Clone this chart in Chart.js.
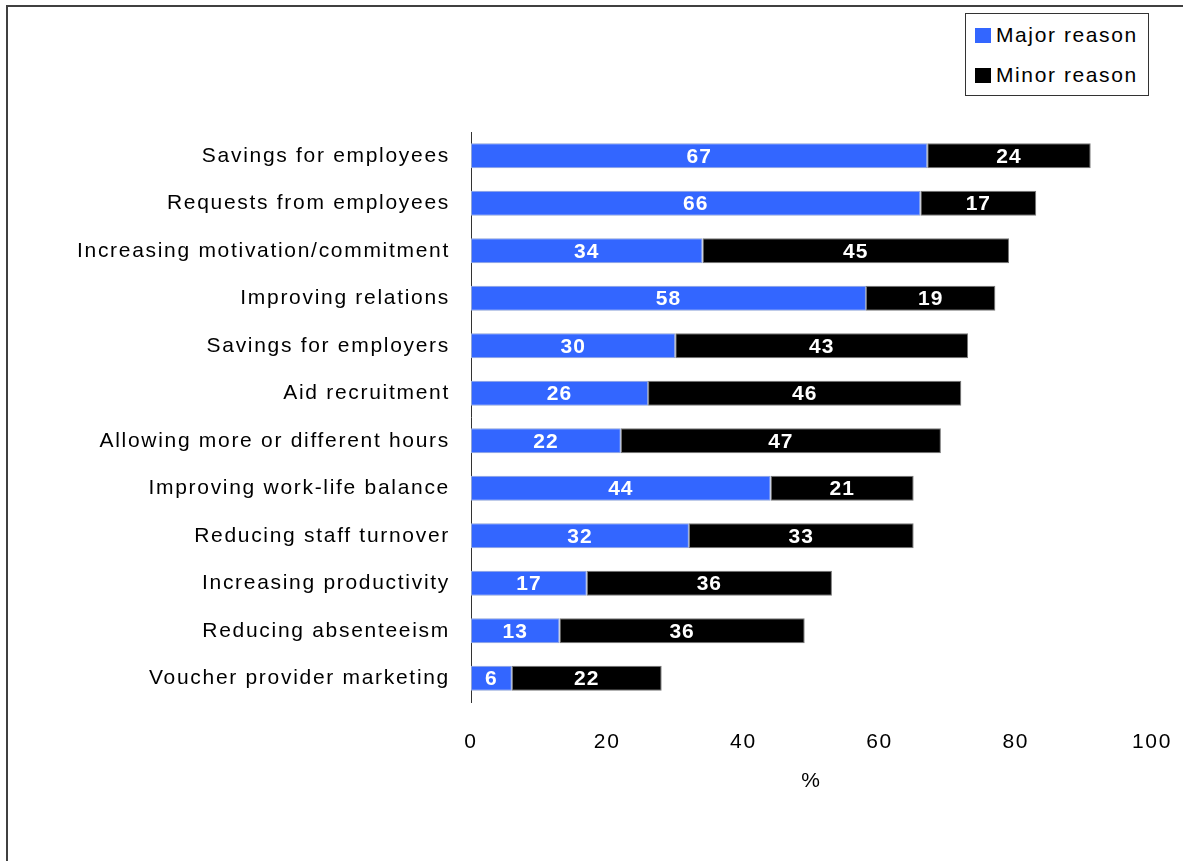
<!DOCTYPE html>
<html>
<head>
<meta charset="utf-8">
<script src="https://cdn.jsdelivr.net/npm/chart.js@4.4.1/dist/chart.umd.min.js"></script>
<style>
  body { margin: 0; background: #fff; }
  #wrap { position: relative; width: 1185px; height: 861px; }
  #frame {
    position: absolute; left: 6px; top: 5px; width: 1175px; height: 860px;
    border-top: 2px solid #404040; border-left: 2px solid #404040;
  }
  #legend {
    position: absolute; left: 965px; top: 13px; width: 182px; height: 81px;
    border: 1px solid #333; background: #fff;
    font-family: "Liberation Sans", Arial, sans-serif; font-size: 21px; letter-spacing: 1.6px;
  }
  #legend div { position: absolute; left: 9px; height: 24px; line-height: 24px; white-space: nowrap; }
  #legend span { display: inline-block; width: 16px; height: 15px; margin-right: 5px; vertical-align: -1px; }
  canvas { position: absolute; left: 0; top: 0; }
</style>
</head>
<body>
<div id="wrap">
  <div id="frame"></div>
  <canvas id="reasonsChart" width="1185" height="861"></canvas>
  <div id="legend"></div>
</div>
<script>
// Reasons for offering vouchers, % of respondents
const reasons = [
    'Savings for employees',
    'Requests from employees',
    'Increasing motivation/commitment',
    'Improving relations',
    'Savings for employers',
    'Aid recruitment',
    'Allowing more or different hours',
    'Improving work-life balance',
    'Reducing staff turnover',
    'Increasing productivity',
    'Reducing absenteeism',
    'Voucher provider marketing'
];
const majorReason = [67, 66, 34, 58, 30, 26, 22, 44, 32, 17, 13, 6];
const minorReason = [24, 17, 45, 19, 43, 46, 47, 21, 33, 36, 36, 22];
const xTicks = [0, 20, 40, 60, 80, 100];

const FONT = '"Liberation Sans", Arial, sans-serif';

// white numbers in the middle of each bar segment
const barValues = {
    id: 'barValues',
    afterDatasetsDraw(chart) {
        const ctx = chart.ctx;
        ctx.save();
        ctx.letterSpacing = '1px';
        ctx.font = 'bold 21px ' + FONT;
        ctx.fillStyle = '#fff';
        ctx.textAlign = 'center';
        ctx.textBaseline = 'middle';
        chart.data.datasets.forEach((ds, i) => {
            chart.getDatasetMeta(i).data.forEach((bar, j) => {
                const p = bar.getProps(['x', 'y', 'base'], true);
                ctx.fillText(ds.data[j], (p.x + p.base) / 2, p.y + 1);
            });
        });
        ctx.restore();
    }
};

// spaced lettering for the axis text
const spacing = {
    id: 'spacing',
    beforeDraw(chart) { chart.ctx.letterSpacing = '1.7px'; }
};

const ctx = document.getElementById('reasonsChart').getContext('2d');
const chart = new Chart(ctx, {
    type: 'bar',
    data: {
        labels: reasons,
        datasets: [{
            label: 'Major reason',
            data: majorReason,
            backgroundColor: '#3366ff',
            borderColor: '#8fa3d9',
            borderWidth: 1,
            borderSkipped: false
        }, {
            label: 'Minor reason',
            data: minorReason,
            backgroundColor: '#000000',
            borderColor: '#777777',
            borderWidth: 1,
            borderSkipped: false
        }]
    },
    options: {
        indexAxis: 'y',
        responsive: false,
        animation: false,
        layout: { padding: { top: 132, right: 33, left: 0, bottom: 0 } },
        datasets: { bar: { categoryPercentage: 1, barPercentage: 0.53 } },
        plugins: {
            legend: { display: false },
            tooltip: { enabled: false }
        },
        scales: {
            x: {
                stacked: true,
                min: 0,
                max: 100,
                afterBuildTicks: (scale) => { scale.ticks = xTicks.map(v => ({ value: v })); },
                grid: { display: false, drawTicks: false },
                border: { display: false },
                ticks: { color: '#000', padding: 28, font: { family: FONT, size: 21 } },
                title: {
                    display: true,
                    text: '%',
                    color: '#000',
                    font: { family: FONT, size: 21 },
                    padding: { top: 0, bottom: 67 }
                },
                afterFit: (scale) => {
                    scale.height = 159;
                    scale.paddingLeft = 0;
                    scale.paddingRight = 0;
                }
            },
            y: {
                stacked: true,
                grid: { display: false, drawTicks: false },
                border: { display: true, color: '#333', width: 1 },
                ticks: { color: '#000', padding: 21, font: { family: FONT, size: 21 } },
                afterFit: (scale) => { scale.width = 471; }
            }
        }
    },
    plugins: [spacing, barValues]
});

// legend box in the top right corner
const legend = document.getElementById('legend');
chart.data.datasets.forEach((ds, i) => {
    const item = document.createElement('div');
    item.style.top = (9 + i * 40) + 'px';
    const box = document.createElement('span');
    box.style.background = ds.backgroundColor;
    item.appendChild(box);
    item.appendChild(document.createTextNode(ds.label));
    legend.appendChild(item);
});
</script>
</body>
</html>
